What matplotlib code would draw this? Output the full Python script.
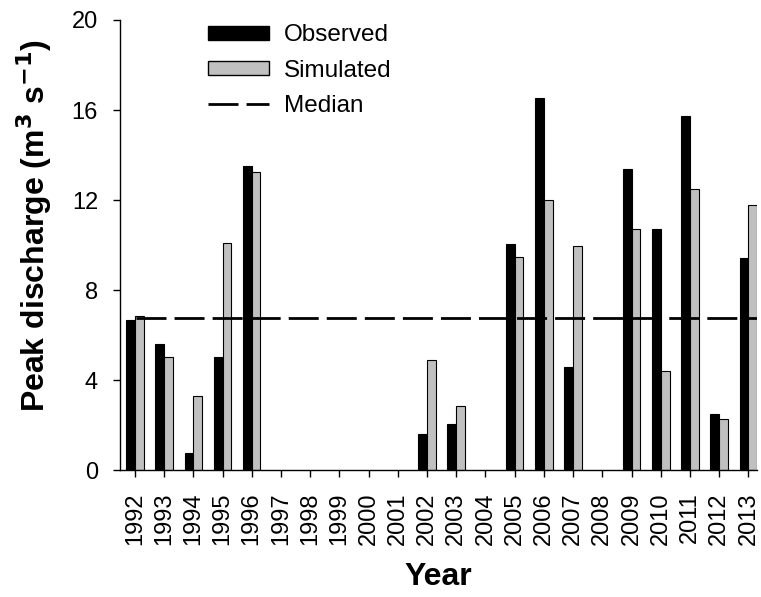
import numpy as np
import matplotlib
matplotlib.use("Agg")
import matplotlib.pyplot as plt
from matplotlib.patches import Patch
from matplotlib.lines import Line2D

plt.rcParams['font.family'] = ['Liberation Sans', 'DejaVu Sans']

years = [str(y) for y in range(1992, 2014)]
observed = [6.68, 5.6, 0.74, 5.02, 13.53, np.nan, np.nan, np.nan, np.nan, np.nan,
            1.59, 2.05, np.nan, 10.05, 16.55, 4.57, np.nan, 13.36, 10.72, 15.73, 2.49, 9.41]
simulated = [6.86, 5.02, 3.29, 10.09, 13.24, np.nan, np.nan, np.nan, np.nan, np.nan,
             4.9, 2.85, np.nan, 9.45, 11.98, 9.97, np.nan, 10.72, 4.38, 12.5, 2.26, 11.8]
median = 6.75

fig = plt.figure(figsize=(7.61, 5.97), dpi=100)
ax = fig.add_axes([0.158, 0.2127, 0.837, 0.7538])

x = np.arange(len(years))
obs = np.array(observed)
sim = np.array(simulated)
w = 0.3
mo = ~np.isnan(obs)
ms = ~np.isnan(sim)
ax.bar(x[mo] - w / 2, obs[mo], width=w, color='black', edgecolor='black', linewidth=0.8)
ax.bar(x[ms] + w / 2, sim[ms], width=w, color='#c0c0c0', edgecolor='black', linewidth=0.8)
dash = (10.8, 2.9)
ax.plot([0.05, 21.3], [median, median], color='black', lw=2.0, dashes=dash)

ax.set_xlim(-0.5, 21.3)
ax.set_ylim(0, 20)
ax.set_yticks([0, 4, 8, 12, 16, 20])
ax.set_xticks(x)
ax.set_xticklabels(years, rotation=90)
ax.tick_params(axis='both', labelsize=17, direction='out', length=5, width=1,
               pad=11, colors='black')
for s in ['top', 'right']:
    ax.spines[s].set_visible(False)
for s in ['left', 'bottom']:
    ax.spines[s].set_linewidth(1)

ax.set_xlabel('Year', fontsize=23, fontweight='bold', labelpad=12)
ax.set_ylabel('Peak discharge (m$^\\mathbf{3}$ s$^\\mathbf{-1}$)', fontsize=23,
              fontweight='bold', labelpad=13)
ax.yaxis.label.set_y(0.544)

handles = [Patch(facecolor='black', edgecolor='black'),
           Patch(facecolor='#c0c0c0', edgecolor='black'),
           Line2D([0], [0], color='black', lw=2.0, dashes=dash)]
ax.legend(handles, ['Observed', 'Simulated', 'Median'], loc='upper left',
          bbox_to_anchor=(0.137, 0.99), frameon=False, fontsize=17.5,
          borderpad=0, borderaxespad=0,
          handlelength=2.55, handleheight=0.5, labelspacing=0.55, handletextpad=0.6)

fig.savefig('out.png', dpi=100)
